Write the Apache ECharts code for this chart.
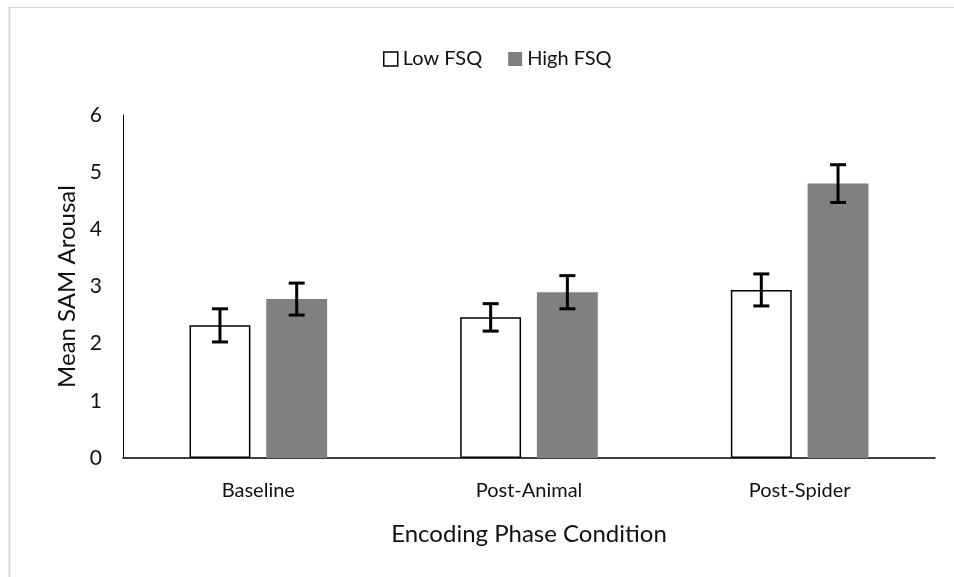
<!DOCTYPE html>
<html>
<head>
<meta charset="utf-8">
<script src="https://cdn.jsdelivr.net/npm/echarts@6/dist/echarts.min.js"></script>
<style>html,body{margin:0;padding:0;background:#fff}#c{width:954px;height:577px}</style>
</head>
<body>
<div id="c"></div>
<script>
var categories = ['Baseline', 'Post-Animal', 'Post-Spider'];
var lowFSQ = [2.32, 2.46, 2.94];
var lowErr = [0.29, 0.24, 0.28];
var highFSQ = [2.78, 2.90, 4.80];
var highErr = [0.28, 0.29, 0.33];
var yTicks = [0, 1, 2, 3, 4, 5, 6];

var FONT = 'Lato, "Open Sans", sans-serif';
var BAR_W = 0.225, GAP = 0.0585;
var OFF = (BAR_W + GAP) / 2;

function errData(vals, errs) {
  return vals.map(function (v, i) { return [i, v - errs[i], v + errs[i]]; });
}
function errRender(sign) {
  return function (params, api) {
    var band = api.size([1, 0])[0];
    var x = api.coord([api.value(0), 0])[0] + sign * OFF * band;
    var lo = api.coord([api.value(0), api.value(1)])[1];
    var hi = api.coord([api.value(0), api.value(2)])[1];
    var hw = 8;
    var st = { stroke: '#000', lineWidth: 3 };
    return { type: 'group', children: [
      { type: 'line', shape: { x1: x, y1: lo, x2: x, y2: hi }, style: st },
      { type: 'line', shape: { x1: x - hw, y1: lo, x2: x + hw, y2: lo }, style: st },
      { type: 'line', shape: { x1: x - hw, y1: hi, x2: x + hw, y2: hi }, style: st }
    ]};
  };
}

var chart = echarts.init(document.getElementById('c'));
chart.setOption({
  animation: false,
  textStyle: { fontFamily: FONT },
  graphic: [
    { type: 'line', shape: { x1: 8, y1: 7.5, x2: 954, y2: 7.5 }, style: { stroke: '#d9d9d9', lineWidth: 1 } },
    { type: 'line', shape: { x1: 9.5, y1: 7, x2: 9.5, y2: 577 }, style: { stroke: '#d9d9d9', lineWidth: 2 } }
  ],
  legend: {
    top: 44, left: 378,
    itemWidth: 14, itemHeight: 14, itemGap: 26,
    textStyle: { fontSize: 20, color: '#111', fontFamily: FONT },
    data: [
      { name: 'Low FSQ', icon: 'rect', itemStyle: { color: '#fff', borderColor: '#000', borderWidth: 1.5 } },
      { name: 'High FSQ', icon: 'rect', itemStyle: { color: '#808080' } }
    ]
  },
  grid: { left: 123, right: 19, top: 115, bottom: 119 },
  xAxis: {
    type: 'category', data: categories,
    axisLine: { lineStyle: { color: '#000', width: 1.5 } },
    axisTick: { show: false },
    axisLabel: { fontSize: 20, color: '#111', margin: 23 },
    name: 'Encoding Phase Condition', nameLocation: 'middle', nameGap: 64,
    nameMoveOverlap: false,
    nameTextStyle: { fontSize: 24, color: '#111' }
  },
  yAxis: {
    type: 'value', min: 0, max: 6, interval: 1,
    axisLine: { show: true, lineStyle: { color: '#000', width: 1 } },
    axisTick: { show: false },
    splitLine: { show: false },
    axisLabel: { fontSize: 21, color: '#111', margin: 21,
      formatter: function (v) { return yTicks.indexOf(v) >= 0 ? String(v) : ''; } },
    name: 'Mean SAM Arousal', nameLocation: 'middle', nameGap: 44,
    nameMoveOverlap: false,
    nameTextStyle: { fontSize: 24, color: '#111' }
  },
  series: [
    { name: 'Low FSQ', type: 'bar', data: lowFSQ, barWidth: (BAR_W * 100) + '%', barGap: (GAP / BAR_W * 100) + '%',
      itemStyle: { color: '#fff', borderColor: '#000', borderWidth: 1.5 } },
    { name: 'High FSQ', type: 'bar', data: highFSQ, barWidth: (BAR_W * 100) + '%',
      itemStyle: { color: '#808080' } },
    { type: 'custom', data: errData(lowFSQ, lowErr), renderItem: errRender(-1), z: 10,
      encode: { x: 0, y: [1, 2] }, silent: true },
    { type: 'custom', data: errData(highFSQ, highErr), renderItem: errRender(1), z: 10,
      encode: { x: 0, y: [1, 2] }, silent: true }
  ]
});
</script>
</body>
</html>
